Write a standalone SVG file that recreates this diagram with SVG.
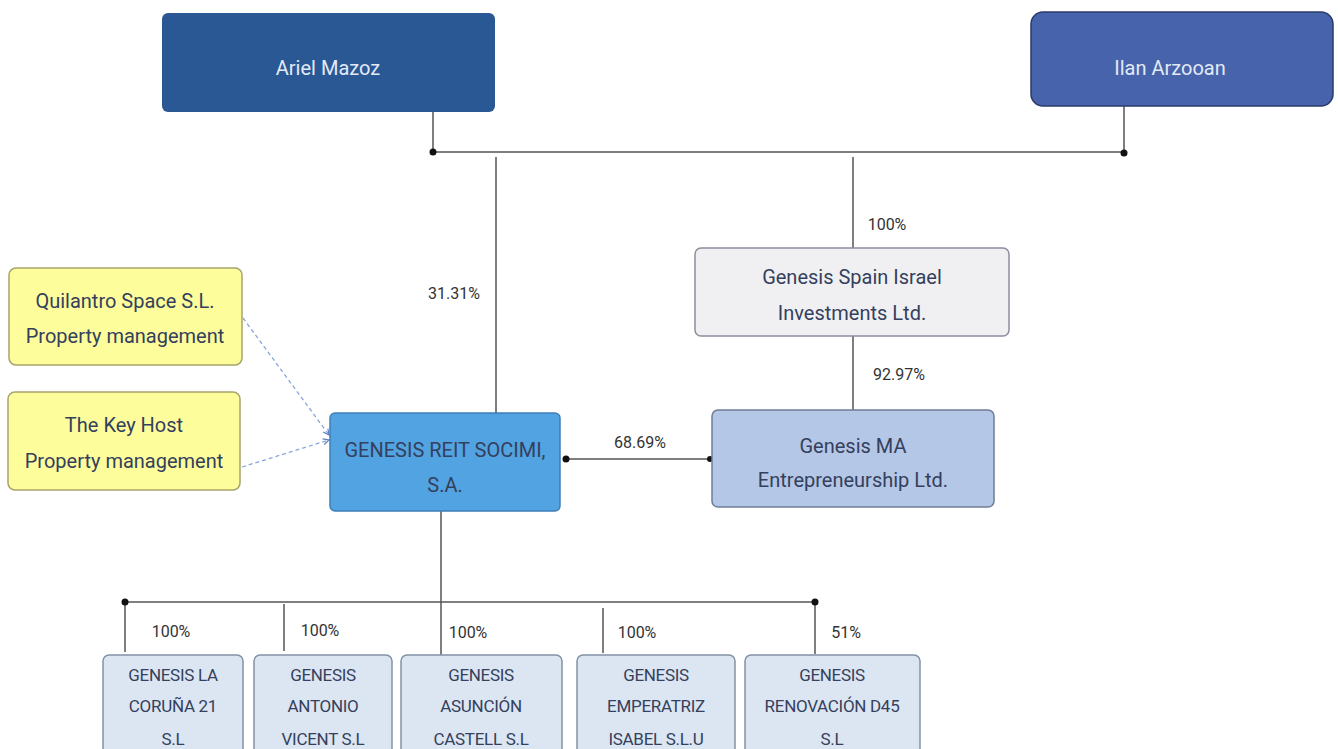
<svg xmlns="http://www.w3.org/2000/svg" width="1338" height="749" viewBox="0 0 1338 749">
<defs>
<style>
text{font-family:Roboto,"Liberation Sans",sans-serif;text-anchor:middle}
.t{font-size:20px;fill:#34405c}
.w{font-size:20px;fill:#e3eaf6}
.s{font-size:17px;fill:#34405c;letter-spacing:-0.3px}
.p{font-size:16px;fill:#333}
.ln{stroke:#555;stroke-width:1.5;fill:none}
.dash{stroke:#8aa6d8;stroke-width:1.3;fill:none;stroke-dasharray:4 3}
.dot{fill:#111}
.sub{fill:#dce6f2;stroke:#8492a6;stroke-width:1.5}
.yel{fill:#fdfd9c;stroke:#a6a46a;stroke-width:1.5}
</style>
<marker id="ah" viewBox="0 0 8 8" refX="7" refY="4" markerWidth="6" markerHeight="6" orient="auto"><path d="M1,1 L7,4 L1,7" fill="none" stroke="#5a7fc0" stroke-width="1.2"/></marker>
</defs>
<rect width="1338" height="749" fill="#fff"/>
<g id="connectors">
<path class="ln" d="M433,112 V152 H1124 V106"/>
<path class="ln" d="M496,157 V413"/>
<path class="ln" d="M853,157 V248"/>
<path class="ln" d="M853,336 V410"/>
<path class="ln" d="M566,459 H710"/>
<path class="ln" d="M441,511 V602"/>
<path class="ln" d="M125,602 H815"/>
<path class="ln" d="M125,602 V652 M284,604 V651 M441,602 V655 M603,608 V653 M815,602 V654"/>
<circle class="dot" cx="433" cy="152" r="3.5"/>
<circle class="dot" cx="1124" cy="153" r="3.5"/>
<circle class="dot" cx="566" cy="459" r="3.5"/>
<circle class="dot" cx="710" cy="459" r="3"/>
<circle class="dot" cx="125" cy="602" r="3.5"/>
<circle class="dot" cx="815" cy="602" r="3.5"/>
<path class="dash" d="M243,318 L329,435" marker-end="url(#ah)"/>
<path class="dash" d="M242,467 L329,440" marker-end="url(#ah)"/>
<text class="p" x="454" y="299">31.31%</text>
<text class="p" x="887" y="230">100%</text>
<text class="p" x="899" y="380">92.97%</text>
<text class="p" x="640" y="448">68.69%</text>
<text class="p" x="171" y="637">100%</text>
<text class="p" x="320" y="636">100%</text>
<text class="p" x="468" y="638">100%</text>
<text class="p" x="637" y="638">100%</text>
<text class="p" x="846" y="638">51%</text>
</g>
<g id="ariel">
<rect x="162" y="13" width="333" height="99" rx="6" fill="#2a5894"/>
<text class="w" x="328" y="75">Ariel Mazoz</text>
</g>
<g id="ilan">
<rect x="1031" y="12" width="302" height="94" rx="12" fill="#4663ac" stroke="#2a3a6a" stroke-width="1.5"/>
<text class="w" x="1170" y="75">Ilan Arzooan</text>
</g>
<g id="spain">
<rect x="695" y="248" width="314" height="88" rx="6" fill="#f0f0f3" stroke="#8a8f9c" stroke-width="1.5"/>
<text class="t" x="852" y="284">Genesis Spain Israel</text>
<text class="t" x="852" y="320">Investments Ltd.</text>
</g>
<g id="ma">
<rect x="712" y="410" width="282" height="97" rx="6" fill="#b4c7e7" stroke="#6f7d94" stroke-width="1.5"/>
<text class="t" x="853" y="453">Genesis MA</text>
<text class="t" x="853" y="487">Entrepreneurship Ltd.</text>
</g>
<g id="reit">
<rect x="330" y="413" width="230" height="98" rx="5" fill="#52a3e2" stroke="#3f7fb8" stroke-width="1.5"/>
<text class="t" x="445" y="457" fill="#1f3a5f">GENESIS REIT SOCIMI,</text>
<text class="t" x="445" y="492">S.A.</text>
</g>
<g id="quilantro">
<rect class="yel" x="9" y="268" width="233" height="97" rx="7"/>
<text class="t" x="125" y="308">Quilantro Space S.L.</text>
<text class="t" x="125" y="343">Property management</text>
</g>
<g id="keyhost">
<rect class="yel" x="8" y="392" width="232" height="98" rx="7"/>
<text class="t" x="124" y="432">The Key Host</text>
<text class="t" x="124" y="468">Property management</text>
</g>
<g id="coruna">
<rect class="sub" x="103" y="655" width="140" height="104" rx="6"/>
<text class="s" x="173" y="681">GENESIS LA</text>
<text class="s" x="173" y="712">CORUÑA 21</text>
<text class="s" x="173" y="745">S.L</text>
</g>
<g id="antonio">
<rect class="sub" x="254" y="655" width="138" height="104" rx="6"/>
<text class="s" x="323" y="681">GENESIS</text>
<text class="s" x="323" y="712">ANTONIO</text>
<text class="s" x="323" y="745">VICENT S.L</text>
</g>
<g id="asuncion">
<rect class="sub" x="401" y="655" width="161" height="104" rx="6"/>
<text class="s" x="481" y="681">GENESIS</text>
<text class="s" x="481" y="712">ASUNCIÓN</text>
<text class="s" x="481" y="745">CASTELL S.L</text>
</g>
<g id="emperatriz">
<rect class="sub" x="577" y="655" width="158" height="104" rx="6"/>
<text class="s" x="656" y="681">GENESIS</text>
<text class="s" x="656" y="712">EMPERATRIZ</text>
<text class="s" x="656" y="745">ISABEL S.L.U</text>
</g>
<g id="renovacion">
<rect class="sub" x="745" y="655" width="175" height="104" rx="6"/>
<text class="s" x="832" y="681">GENESIS</text>
<text class="s" x="832" y="712">RENOVACIÓN D45</text>
<text class="s" x="832" y="745">S.L</text>
</g>
</svg>
